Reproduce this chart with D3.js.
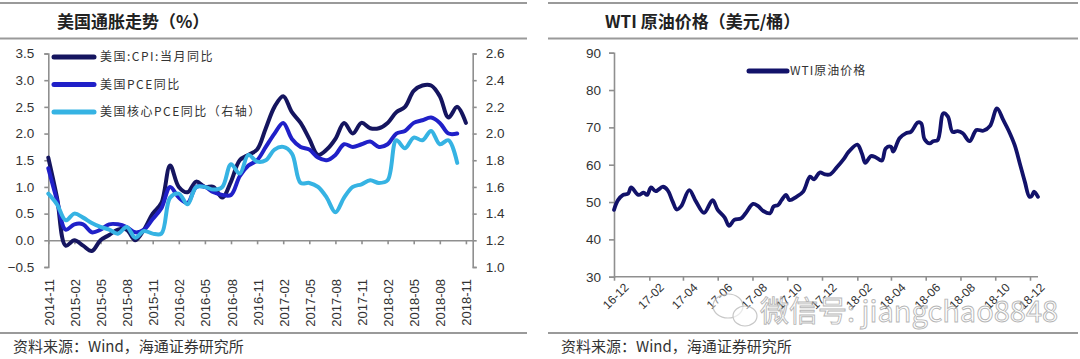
<!DOCTYPE html>
<html>
<head>
<meta charset="utf-8">
<script src="https://cdnjs.cloudflare.com/ajax/libs/d3/7.8.5/d3.min.js"></script>
<style>
	body { margin: 0; background: #fff; }
	text { font-family: "Liberation Sans", Arial, "Noto Sans CJK SC", sans-serif; fill: #333; }
	.cjk { font-family: "Noto Sans CJK SC", sans-serif; }
</style>
</head>
<body>
<div id="charts"></div>
<script>
// left chart: monthly, 2014-11 .. 2018-11
var months = ['2014-11','2014-12','2015-01','2015-02','2015-03','2015-04','2015-05','2015-06','2015-07','2015-08','2015-09','2015-10',
	'2015-11','2015-12','2016-01','2016-02','2016-03','2016-04','2016-05','2016-06','2016-07','2016-08','2016-09','2016-10',
	'2016-11','2016-12','2017-01','2017-02','2017-03','2017-04','2017-05','2017-06','2017-07','2017-08','2017-09','2017-10',
	'2017-11','2017-12','2018-01','2018-02','2018-03','2018-04','2018-05','2018-06','2018-07','2018-08','2018-09','2018-10','2018-11'];

var cpiValues = [1.55, 0.8, -0.1, 0.0, -0.1, -0.2, 0.0, 0.1, 0.2, 0.2, 0.0, 0.2,
	0.5, 0.7, 1.4, 1.0, 0.9, 1.1, 1.0, 1.0, 0.8, 1.1, 1.5, 1.6,
	1.7, 2.1, 2.5, 2.7, 2.4, 2.2, 1.9, 1.6, 1.7, 1.9, 2.2, 2.0,
	2.2, 2.1, 2.1, 2.2, 2.4, 2.5, 2.8, 2.9, 2.9, 2.7, 2.3, 2.5, 2.2];

var pceValues = [1.35, 0.75, 0.2, 0.3, 0.3, 0.15, 0.2, 0.3, 0.3, 0.25, 0.15, 0.2,
	0.4, 0.6, 1.0, 0.8, 0.7, 1.0, 1.0, 0.9, 0.85, 0.85, 1.2, 1.4,
	1.5, 1.75, 2.0, 2.2, 1.9, 1.75, 1.7, 1.55, 1.5, 1.6, 1.8, 1.75,
	1.8, 1.85, 1.75, 1.8, 2.0, 2.05, 2.2, 2.25, 2.3, 2.2, 2.0, 2.0];

var corePceValues = [1.55, 1.47, 1.35, 1.4, 1.37, 1.33, 1.3, 1.28, 1.25, 1.3, 1.22, 1.27,
	1.25, 1.25, 1.52, 1.55, 1.47, 1.6, 1.6, 1.58, 1.6, 1.77, 1.7, 1.84,
	1.79, 1.8, 1.88, 1.9, 1.85, 1.63, 1.63, 1.6, 1.52, 1.41, 1.52, 1.6,
	1.62, 1.65, 1.63, 1.65, 1.95, 1.89, 1.97, 1.95, 2.02, 1.92, 1.95, 1.78];

var leftTicks = [-0.5, 0, 0.5, 1, 1.5, 2, 2.5, 3, 3.5];
var rightTicks = [1.0, 1.2, 1.4, 1.6, 1.8, 2.0, 2.2, 2.4, 2.6];
var inflationLabels = ['美国:CPI:当月同比', '美国PCE同比', '美国核心PCE同比（右轴）'];

// right chart: WTI
var wtiDates = ['2016-12-01','2016-12-08','2016-12-17','2016-12-26','2016-12-31','2017-01-13','2017-01-22','2017-01-28','2017-02-04','2017-02-12',
	'2017-02-25','2017-03-05','2017-03-14','2017-03-21','2017-03-29','2017-04-12','2017-04-24','2017-05-08','2017-05-23','2017-06-01',
	'2017-06-13','2017-06-21','2017-06-30','2017-07-12','2017-07-20','2017-08-02','2017-08-11','2017-08-20','2017-09-01','2017-09-07',
	'2017-09-15','2017-09-21','2017-09-29','2017-10-05','2017-10-17','2017-10-29','2017-11-10','2017-11-17','2017-11-27','2017-12-06',
	'2017-12-15','2017-12-27','2018-01-08','2018-01-17','2018-02-01','2018-02-09','2018-02-15','2018-02-25','2018-03-05','2018-03-16',
	'2018-03-23','2018-04-01','2018-04-05','2018-04-16','2018-04-27','2018-05-06','2018-05-18','2018-05-24','2018-05-30','2018-06-08',
	'2018-06-14','2018-06-22','2018-07-02','2018-07-10','2018-07-18','2018-07-27','2018-08-05','2018-08-17','2018-08-29','2018-09-10',
	'2018-09-22','2018-10-04','2018-10-15','2018-10-24','2018-11-04','2018-11-13','2018-11-22','2018-11-30','2018-12-04','2018-12-08','2018-12-15'];

var wtiValues = [47.9, 50.5, 51.9, 52.3, 53.9, 51.9, 52.5, 51.9, 53.9, 52.9,
	54.1, 53.2, 50.1, 48.0, 48.9, 53.2, 50.1, 47.1, 50.5, 47.9,
	45.9, 43.6, 45.2, 45.6, 47.0, 49.5, 48.9, 47.6, 47.0, 48.8,
	49.2, 50.5, 51.9, 50.5, 51.4, 52.8, 56.8, 56.1, 57.9, 57.4,
	57.4, 59.3, 61.5, 63.5, 65.4, 63.0, 60.5, 62.3, 62.0, 61.1,
	64.4, 64.8, 63.5, 67.1, 68.4, 68.8, 71.3, 71.1, 66.8, 65.7,
	66.3, 66.6, 73.8, 72.9, 68.8, 69.0, 68.4, 66.3, 69.3, 69.1,
	70.4, 75.1, 72.0, 69.3, 65.3, 60.4, 55.4, 51.4, 51.6, 52.8, 51.4];

var wtiTicks = [30, 40, 50, 60, 70, 80, 90];
var wtiTickLabels = ['16-12','17-02','17-04','17-06','17-08','17-10','17-12','18-02','18-04','18-06','18-08','18-10','18-12'];
var wtiLabel = 'WTI原油价格';

var width = 1080;
var height = 359;
var axisColor = '#8f8f8f';

var svg = d3.select('#charts')
	.append('svg')
	.attr('width', width)
	.attr('height', height);

drawFrame(0, 527, '美国通胀走势（%）', 57);
drawFrame(548, 1078, 'WTI 原油价格（美元/桶）', 605);
createInflationChart();
createOilChart();
drawWatermark();

function drawFrame(x0, x1, title, titleX)
{
	[3, 38.5, 333].forEach(function(y) {
		svg.append('line')
			.attr('x1', x0).attr('x2', x1)
			.attr('y1', y).attr('y2', y)
			.attr('stroke', '#9a9a9a')
			.attr('stroke-width', 2);
	});

	svg.append('text')
		.attr('x', titleX)
		.attr('y', 28)
		.attr('class', 'cjk')
		.style('font-size', '17px')
		.style('font-weight', 'bold')
		.style('fill', '#222')
		.text(title);

	svg.append('text')
		.attr('x', x0 + 13)
		.attr('y', 352)
		.attr('class', 'cjk')
		.style('font-size', '15px')
		.style('fill', '#333')
		.text('资料来源：Wind，海通证券研究所');
}

function createInflationChart()
{
	var x = d3.scaleLinear()
		.domain([0, 48.78])
		.range([48.3, 472.7]);

	var yLeft = d3.scaleLinear()
		.domain([-0.5, 3.5])
		.range([267, 53.5]);

	var yRight = d3.scaleLinear()
		.domain([1.0, 2.6])
		.range([267, 53.5]);

	var colors = ['#15155f', '#2020c8', '#36b3e3'];

	// left axis
	var gl = svg.append('g')
		.attr('transform', 'translate(' + x.range()[0] + ',0)')
		.call(d3.axisLeft(yLeft).tickValues(leftTicks).tickFormat(d3.format('.1f')).tickSize(4).tickPadding(10));

	// right axis
	var gr = svg.append('g')
		.attr('transform', 'translate(' + x.range()[1] + ',0)')
		.call(d3.axisRight(yRight).tickValues(rightTicks).tickFormat(d3.format('.1f')).tickSize(4).tickPadding(9));

	// x axis sits on zero
	var tickIdx = d3.range(0, months.length, 3);
	var gx = svg.append('g')
		.attr('transform', 'translate(0,' + yLeft(0) + ')')
		.call(d3.axisBottom(x).tickValues(tickIdx).tickFormat('').tickSize(4).tickSizeOuter(0));

	[gl, gr, gx].forEach(function(g) {
		g.select('.domain').attr('stroke', axisColor).attr('stroke-width', 1.6);
		g.selectAll('.tick line').attr('stroke', axisColor).attr('stroke-width', 1.6);
		g.selectAll('text').style('font-size', '13.5px').style('fill', '#333');
	});

	svg.append('g')
		.selectAll('text')
		.data(tickIdx)
		.enter()
		.append('text')
		.attr('transform', function(d) { return 'translate(' + (x(d) + 1) + ',279) rotate(-90)'; })
		.attr('text-anchor', 'end')
		.attr('dy', '0.35em')
		.style('font-size', '13px')
		.text(function(d) { return months[d]; });

	var series = [
		{ values: cpiValues, scale: yLeft },
		{ values: pceValues, scale: yLeft },
		{ values: corePceValues, scale: yRight }
	];

	series.forEach(function(s, k) {
		var line = d3.line()
			.x(function(d, i) { return x(i); })
			.y(function(d) { return s.scale(d); })
			.curve(d3.curveCatmullRom.alpha(0.5));

		svg.append('path')
			.datum(s.values)
			.attr('d', line)
			.attr('fill', 'none')
			.attr('stroke', colors[k])
			.attr('stroke-width', 4)
			.attr('stroke-linejoin', 'round')
			.attr('stroke-linecap', 'round');
	});

	// legend
	var legend = svg.selectAll('.legend-l')
		.data(inflationLabels)
		.enter()
		.append('g')
		.attr('class', 'legend-l')
		.attr('transform', function(d, i) { return 'translate(54,' + (57 + i * 27.5) + ')'; });

	legend.append('line')
		.attr('x1', 0).attr('x2', 40)
		.attr('stroke', function(d, i) { return colors[i]; })
		.attr('stroke-width', 5)
		.attr('stroke-linecap', 'round');

	legend.append('text')
		.attr('x', 46)
		.attr('dy', '0.35em')
		.attr('class', 'cjk')
		.style('font-size', '12px')
		.style('letter-spacing', '1.5px')
		.text(function(d) { return d; });
}

function createOilChart()
{
	var parse = d3.timeParse('%Y-%m-%d');
	var parseTick = d3.timeParse('%y-%m');
	var data = wtiDates.map(function(d, i) { return { date: parse(d), value: wtiValues[i] }; });
	var tickDates = wtiTickLabels.map(function(d) { return parseTick(d); });

	var x = d3.scaleTime()
		.domain([tickDates[0], tickDates[tickDates.length - 1]])
		.range([614, 1030]);

	var y = d3.scaleLinear()
		.domain([30, 90])
		.range([276.7, 52.7]);

	var gy = svg.append('g')
		.attr('transform', 'translate(614,0)')
		.call(d3.axisLeft(y).tickValues(wtiTicks).tickSize(5).tickPadding(8));

	var gx = svg.append('g')
		.attr('transform', 'translate(0,' + y(30) + ')')
		.call(d3.axisBottom(x).tickValues(tickDates).tickFormat(function(d, i) { return wtiTickLabels[i]; }).tickSize(4).tickSizeOuter(0));

	gx.select('.domain').remove();
	gx.append('line')
		.attr('x1', 614).attr('x2', 1038)
		.attr('stroke', axisColor)
		.attr('stroke-width', 1.6);

	gx.selectAll('.tick text')
		.attr('text-anchor', 'end')
		.attr('dx', '0.2em')
		.attr('dy', '0.9em')
		.attr('transform', 'rotate(-45)')
		.attr('y', 8)
		.attr('x', 0);

	[gy, gx].forEach(function(g) {
		g.select('.domain').attr('stroke', axisColor).attr('stroke-width', 1.6);
		g.selectAll('.tick line').attr('stroke', axisColor).attr('stroke-width', 1.6);
		g.selectAll('text').style('font-size', '13.5px').style('fill', '#333');
	});
	gx.selectAll('text').style('font-size', '12px');

	var line = d3.line()
		.x(function(d) { return x(d.date); })
		.y(function(d) { return y(d.value); })
		.curve(d3.curveCatmullRom.alpha(0.5));

	svg.append('path')
		.datum(data)
		.attr('d', line)
		.attr('fill', 'none')
		.attr('stroke', '#12126a')
		.attr('stroke-width', 3.8)
		.attr('stroke-linejoin', 'round')
		.attr('stroke-linecap', 'round');

	var legend = svg.append('g')
		.attr('transform', 'translate(749,71)');

	legend.append('line')
		.attr('x1', 0).attr('x2', 38)
		.attr('stroke', '#12126a')
		.attr('stroke-width', 5)
		.attr('stroke-linecap', 'round');

	legend.append('text')
		.attr('x', 41)
		.attr('dy', '0.35em')
		.attr('class', 'cjk')
		.style('font-size', '12px')
		.style('letter-spacing', '1px')
		.text(wtiLabel);
}

function drawWatermark()
{
	var g = svg.append('g')
		.attr('opacity', 0.75);

	g.append('ellipse')
		.attr('cx', 728).attr('cy', 306)
		.attr('rx', 15).attr('ry', 12)
		.attr('fill', 'rgba(255,255,255,0.6)')
		.attr('stroke', '#b5b5b5')
		.attr('stroke-width', 1.2);

	g.append('ellipse')
		.attr('cx', 745).attr('cy', 316)
		.attr('rx', 12).attr('ry', 10)
		.attr('fill', 'rgba(255,255,255,0.6)')
		.attr('stroke', '#b5b5b5')
		.attr('stroke-width', 1.2);

	g.append('text')
		.attr('x', 760)
		.attr('y', 322)
		.attr('class', 'cjk')
		.style('font-size', '29px')
		.style('fill', 'rgba(255,255,255,0.55)')
		.style('stroke', '#9d9d9d')
		.style('stroke-width', '0.9px')
		.text('微信号: jiangchao8848');
}
</script>
</body>
</html>
